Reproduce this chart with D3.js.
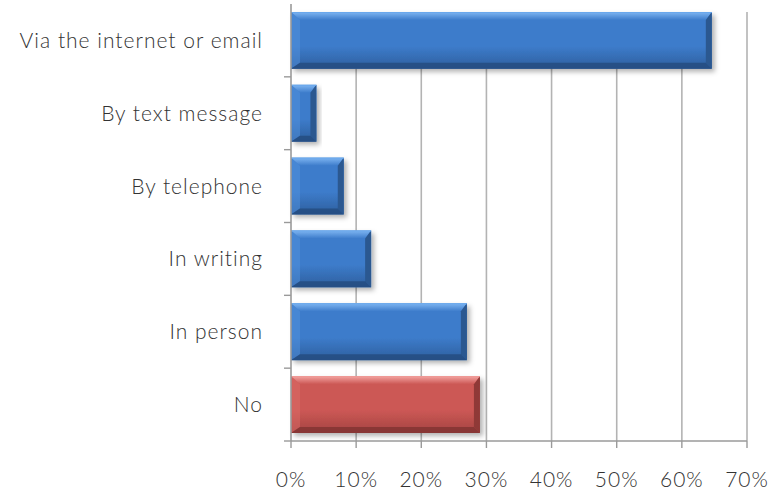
<!DOCTYPE html>
<html><head><meta charset="utf-8">
<script src="https://cdn.jsdelivr.net/npm/d3@7"></script>
<style>body{margin:0;background:#fff}svg{display:block}</style>
</head><body><svg id="c" width="772" height="490"></svg>
<script>
const categories = ["Via the internet or email","By text message","By telephone","In writing","In person","No"];
const values = [0.646, 0.039, 0.081, 0.123, 0.270, 0.290];
const barKinds = ["blue","blue","blue","blue","blue","red"];
const xTicks = [0,0.1,0.2,0.3,0.4,0.5,0.6,0.7];

const svg = d3.select("#c");
const x = d3.scaleLinear().domain([0,0.7]).range([291,747]);
const y = d3.scaleBand().domain(categories).range([4,441]).paddingInner(0.22).paddingOuter(0.11);
const plotTop = 12, plotBottom = 441;
const font = "Lato, 'Open Sans', sans-serif";

const palette = {
  blue:{top:"#6aa8ec", mid:"#3d7ccb", bot:"#2e5f9e", hl:"#7fb6f2", dk:"#244c80", side:"#5291de", rside:"#2b5890"},
  red:{top:"#f09a98", mid:"#cc5855", bot:"#a54442", hl:"#f3a3a1", dk:"#833432", side:"#dc6b68", rside:"#8f3937"}
};
const defs = svg.append("defs");
Object.entries(palette).forEach(([k,p])=>{
  const g = defs.append("linearGradient").attr("id","g-"+k).attr("x1",0).attr("x2",0).attr("y1",0).attr("y2",1);
  g.append("stop").attr("offset","0").attr("stop-color",p.mid);
  g.append("stop").attr("offset","0.6").attr("stop-color",p.mid);
  g.append("stop").attr("offset","1").attr("stop-color",p.bot);
  const t = defs.append("linearGradient").attr("id","t-"+k).attr("x1",0).attr("x2",0).attr("y1",0).attr("y2",1);
  t.append("stop").attr("offset","0").attr("stop-color",p.hl);
  t.append("stop").attr("offset","1").attr("stop-color",p.mid);
});
const f = defs.append("filter").attr("id","sh").attr("x","-10%").attr("y","-20%").attr("width","130%").attr("height","150%");
f.append("feDropShadow").attr("dx",3).attr("dy",3).attr("stdDeviation",2.5).attr("flood-color","#000").attr("flood-opacity",0.3);

// gridlines
svg.append("g").selectAll("line").data(xTicks.slice(1)).join("line")
  .attr("x1",d=>x(d)).attr("x2",d=>x(d)).attr("y1",plotTop).attr("y2",plotBottom)
  .attr("stroke","#b3b3b3").attr("stroke-width",1.6);

// bars
const bars = svg.append("g").selectAll("g").data(categories).join("g");
bars.each(function(c,i){
  const g = d3.select(this);
  const k = barKinds[i], p = palette[k];
  const x0 = x(0), x1 = x(values[i]), y0 = y(c), h = y.bandwidth(), y1 = y0+h;
  const w = x1-x0;
  const bx = Math.min(9, w/2), byT = 8, byB = 6, bxR = Math.min(6, w/2);
  g.append("rect").attr("x",x0).attr("y",y0).attr("width",w).attr("height",h)
    .attr("fill","url(#g-"+k+")").attr("filter","url(#sh)");
  // top bevel
  g.append("polygon").attr("points",[[x0,y0],[x1,y0],[x1-bxR,y0+byT],[x0+bx,y0+byT]].join(" "))
    .attr("fill","url(#t-"+k+")");
  // left bevel
  g.append("polygon").attr("points",[[x0,y0],[x0+bx,y0+byT],[x0+bx,y1-byB],[x0,y1]].join(" "))
    .attr("fill",p.side).attr("opacity",0.5);
  // right bevel
  g.append("polygon").attr("points",[[x1,y0],[x1,y1],[x1-bxR,y1-byB],[x1-bxR,y0+byT]].join(" "))
    .attr("fill",p.rside);
  // bottom bevel
  g.append("polygon").attr("points",[[x0,y1],[x1,y1],[x1-bxR,y1-byB],[x0+bx,y1-byB]].join(" "))
    .attr("fill",p.dk).attr("opacity",0.85);
  g.append("line").attr("x1",x0).attr("x2",x1).attr("y1",y0+0.5).attr("y2",y0+0.5)
    .attr("stroke",p.top).attr("stroke-width",1);
});

// y axis
const yAxis = svg.append("g");
yAxis.append("line").attr("x1",x(0)).attr("x2",x(0)).attr("y1",plotTop-8).attr("y2",plotBottom)
  .attr("stroke","#9a9a9a").attr("stroke-width",1.6);
const bounds = categories.map(c=>y(c)+y.bandwidth()+y.step()*0.11);
yAxis.selectAll("line.t").data(bounds).join("line").attr("class","t")
  .attr("x1",x(0)-7).attr("x2",x(0)).attr("y1",d=>d).attr("y2",d=>d)
  .attr("stroke","#9a9a9a").attr("stroke-width",1.4);
yAxis.selectAll("text").data(categories).join("text")
  .attr("x",263).attr("y",d=>y(d)+y.bandwidth()/2).attr("dy","0.36em")
  .attr("text-anchor","end").attr("font-family",font).attr("font-size",21)
  .attr("font-weight",300).attr("letter-spacing",1)
  .attr("fill","#333").text(d=>d);

// x axis
const xAxis = svg.append("g");
xAxis.append("line").attr("x1",x(0)).attr("x2",x(0.7)).attr("y1",plotBottom).attr("y2",plotBottom)
  .attr("stroke","#9a9a9a").attr("stroke-width",1.6);
xAxis.selectAll("line.t").data(xTicks).join("line").attr("class","t")
  .attr("x1",d=>x(d)).attr("x2",d=>x(d)).attr("y1",plotBottom).attr("y2",plotBottom+7)
  .attr("stroke","#9a9a9a").attr("stroke-width",1.4);
xAxis.selectAll("text").data(xTicks).join("text")
  .attr("x",d=>x(d)).attr("y",487).attr("text-anchor","middle")
  .attr("font-family",font).attr("font-size",21).attr("font-weight",300).attr("letter-spacing",1)
  .attr("fill","#333")
  .text(d=>d3.format(".0%")(d));
</script></body></html>
